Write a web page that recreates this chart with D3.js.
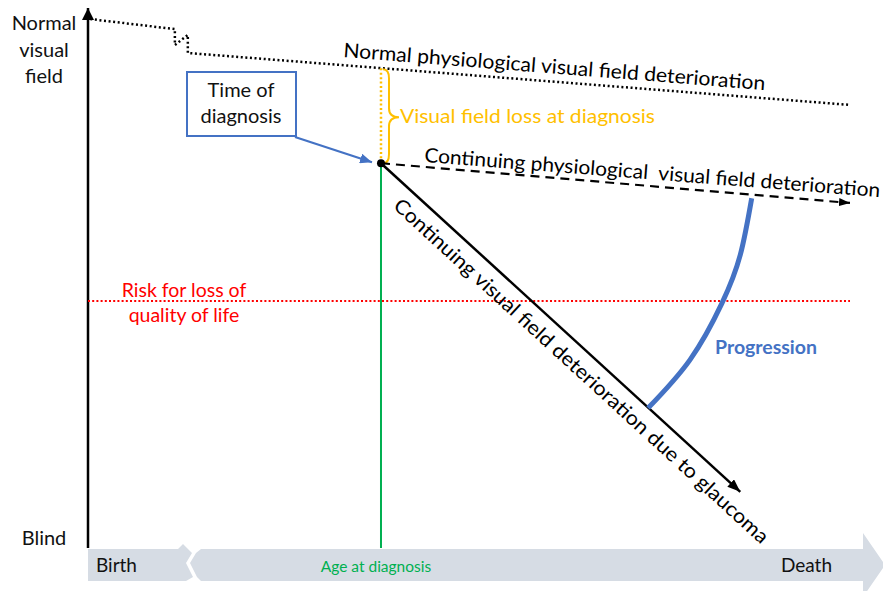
<!DOCTYPE html>
<html>
<head>
<meta charset="utf-8">
<script src="https://cdn.jsdelivr.net/npm/d3@7"></script>
<style>
  html, body { margin: 0; padding: 0; background: #fff; }
  svg { display: block; font-family: Lato, "Open Sans", "DejaVu Sans", sans-serif; }
  text { white-space: pre; }
</style>
</head>
<body>
<svg id="chart" width="883" height="591"></svg>
<script>
// ---------- data (x: 0 = birth, 100 = death; y: 0 = blind, 100 = normal) ----------
const yTickLabels = [{ v: 100, lines: ["Normal", "visual", "field"] }, { v: 0, lines: ["Blind"] }];
const xTickLabels = ["Birth", "Age at diagnosis", "Death"];
const normalField = [[0.3, 99.8], [11.4, 97.9], [11.4, 94.9], [13.1, 96.8], [13.1, 93.4], [100, 83.6]];
const diagnosisAge = 38.45;
const diagnosisField = 72.6;
const normalAtDiagnosis = 90.5;
const continuingPhysio = [[38.45, 72.6], [100, 65.1]];
const glaucomaDecline = [[38.45, 72.6], [85.6, 10.6]];
const riskLevel = 46.6;
const progressionArc = [[87.1, 66.0], [85.6, 55.3], [83.2, 46.2], [79.0, 35.5], [73.5, 26.4]];

// ---------- setup ----------
const svg = d3.select("#chart");
const x = d3.scaleLinear().domain([0, 100]).range([88, 850]);
const y = d3.scaleLinear().domain([0, 100]).range([548, 18]);
const line = d3.line().x(d => x(d[0])).y(d => y(d[1]));

const defs = svg.append("defs");
function marker(id, color, w, h) {
  defs.append("marker").attr("id", id)
    .attr("markerUnits", "userSpaceOnUse")
    .attr("viewBox", `0 0 ${w} ${h}`)
    .attr("refX", w).attr("refY", h / 2)
    .attr("markerWidth", w).attr("markerHeight", h)
    .attr("orient", "auto")
    .append("path").attr("d", `M0,0 L${w},${h / 2} L0,${h} Z`).attr("fill", color);
}
marker("arrBlack", "#000", 13, 10);
marker("arrSmall", "#000", 11, 8);
marker("arrBlue", "#4472C4", 12, 10);
marker("arrAxis", "#000", 12, 12);

// ---------- bottom banner (time arrow with break) ----------
const bannerLeft = [[88,549],[178,549],[183,544],[192,553],[186,563],[193,577],[186,581],[88,581]];
const bannerRight = [[196,553],[201,549],[863,549],[863,533],[885,565],[863,597],[863,581],[201,581],[197,577],[190,563]];
[bannerLeft, bannerRight].forEach(p => {
  svg.append("path").attr("d", "M" + p.map(q => q.join(",")).join("L") + "Z").attr("fill", "#D6DCE4");
});

// x labels
const xLab = svg.append("g").attr("font-size", 19).attr("fill", "#111");
xLab.append("text").attr("x", x(0) + 8).attr("y", 572).text(xTickLabels[0]);
xLab.append("text").attr("x", x(diagnosisAge) - 5).attr("y", 572).attr("text-anchor", "middle")
  .attr("font-size", 15.5).attr("fill", "#00B050").text(xTickLabels[1]);
xLab.append("text").attr("x", 832).attr("y", 572).attr("text-anchor", "end").text(xTickLabels[2]);

// ---------- y axis ----------
svg.append("line").attr("x1", x(0)).attr("x2", x(0)).attr("y1", y(0)).attr("y2", y(101.9))
  .attr("stroke", "#000").attr("stroke-width", 2.5).attr("marker-end", "url(#arrAxis)");

yTickLabels.forEach(t => {
  t.lines.forEach((s, i) => {
    svg.append("text").attr("x", 44).attr("text-anchor", "middle")
      .attr("y", t.v === 100 ? 30 + i * 26.5 : 545)
      .attr("font-size", 20).attr("fill", "#111").text(s);
  });
});

// ---------- risk line ----------
svg.append("line").attr("x1", x(0)).attr("x2", x(100)).attr("y1", y(riskLevel)).attr("y2", y(riskLevel))
  .attr("stroke", "#FF0000").attr("stroke-width", 2).attr("stroke-dasharray", "2,2.2");
svg.append("text").attr("x", 184).attr("y", 297).attr("text-anchor", "middle").attr("font-size", 19.5)
  .attr("fill", "#FF0000").text("Risk for loss of");
svg.append("text").attr("x", 184).attr("y", 322).attr("text-anchor", "middle").attr("font-size", 19.5)
  .attr("fill", "#FF0000").text("quality of life");

// ---------- normal physiological line ----------
svg.append("path").attr("d", line(normalField)).attr("fill", "none")
  .attr("stroke", "#000").attr("stroke-width", 2.5).attr("stroke-dasharray", "2,2.6");
const normAngle = Math.atan2(y(83.6) - y(93.4), x(100) - x(13.1)) * 180 / Math.PI;
svg.append("text").attr("transform", `translate(343,57) rotate(${normAngle})`)
  .attr("font-size", 20).attr("fill", "#000").attr("textLength", 423).attr("lengthAdjust", "spacingAndGlyphs")
  .text("Normal physiological visual field deterioration");

// ---------- green age-at-diagnosis line ----------
svg.append("line").attr("x1", x(diagnosisAge)).attr("x2", x(diagnosisAge))
  .attr("y1", y(diagnosisField)).attr("y2", y(0))
  .attr("stroke", "#00B050").attr("stroke-width", 2);

// ---------- yellow loss-at-diagnosis ----------
svg.append("line").attr("x1", x(diagnosisAge)).attr("x2", x(diagnosisAge))
  .attr("y1", y(normalAtDiagnosis)).attr("y2", y(diagnosisField))
  .attr("stroke", "#FFC000").attr("stroke-width", 2.5).attr("stroke-dasharray", "2,2.4");
{
  const bx = x(diagnosisAge) + 2, yt = y(normalAtDiagnosis) + 1, yb = y(diagnosisField), ym = (yt + yb) / 2 + 1;
  const d = `M${bx},${yt} Q${bx + 6},${yt} ${bx + 6},${yt + 9} L${bx + 6},${ym - 9} Q${bx + 6},${ym} ${bx + 16},${ym}` +
            ` Q${bx + 6},${ym} ${bx + 6},${ym + 9} L${bx + 6},${yb - 9} Q${bx + 6},${yb} ${bx},${yb}`;
  svg.append("path").attr("d", d).attr("fill", "none").attr("stroke", "#FFC000").attr("stroke-width", 2);
  svg.append("text").attr("x", bx + 17).attr("y", ym + 6).attr("font-size", 20).attr("fill", "#FFC000")
    .attr("textLength", 255).attr("lengthAdjust", "spacingAndGlyphs")
    .text("Visual field loss at diagnosis");
}

// ---------- continuing physiological (dashed) ----------
svg.append("path").attr("d", line(continuingPhysio)).attr("fill", "none")
  .attr("stroke", "#000").attr("stroke-width", 2.2).attr("stroke-dasharray", "9,6")
  .attr("marker-end", "url(#arrSmall)");
svg.append("text").attr("transform", `translate(424,162) rotate(4.4)`)
  .attr("font-size", 20).attr("fill", "#000").attr("textLength", 457).attr("lengthAdjust", "spacingAndGlyphs")
  .text("Continuing physiological  visual field deterioration");

// ---------- glaucoma decline ----------
svg.append("path").attr("d", line(glaucomaDecline)).attr("fill", "none")
  .attr("stroke", "#000").attr("stroke-width", 2.5).attr("marker-end", "url(#arrBlack)");
{
  const p0 = [x(glaucomaDecline[0][0]), y(glaucomaDecline[0][1])];
  const p1 = [x(glaucomaDecline[1][0]), y(glaucomaDecline[1][1])];
  const th = Math.atan2(p1[1] - p0[1], p1[0] - p0[0]);
  const ux = Math.cos(th), uy = Math.sin(th);
  const s = 38, off = 25;
  const tx = p0[0] + s * ux - off * uy, ty = p0[1] + s * uy + off * ux;
  svg.append("text").attr("transform", `translate(${tx},${ty}) rotate(${th * 180 / Math.PI})`)
    .attr("font-size", 20).attr("fill", "#000").attr("textLength", 500).attr("lengthAdjust", "spacingAndGlyphs")
    .text("Continuing visual field deterioration due to glaucoma");
}

// diagnosis dot
svg.append("circle").attr("cx", x(diagnosisAge)).attr("cy", y(diagnosisField)).attr("r", 4).attr("fill", "#000");

// ---------- progression arc ----------
svg.append("path").attr("d", d3.line().x(d => x(d[0])).y(d => y(d[1])).curve(d3.curveNatural)(progressionArc))
  .attr("fill", "none").attr("stroke", "#4472C4").attr("stroke-width", 5);
svg.append("text").attr("x", 766).attr("y", 354).attr("text-anchor", "middle")
  .attr("font-size", 19.5).attr("font-weight", "bold").attr("fill", "#4472C4").text("Progression");

// ---------- time of diagnosis box ----------
svg.append("rect").attr("x", 187).attr("y", 72).attr("width", 109).attr("height", 64)
  .attr("fill", "#fff").attr("stroke", "#4472C4").attr("stroke-width", 2);
svg.append("text").attr("x", 241).attr("y", 97).attr("text-anchor", "middle").attr("font-size", 20).attr("fill", "#111").text("Time of");
svg.append("text").attr("x", 241).attr("y", 123).attr("text-anchor", "middle").attr("font-size", 20).attr("fill", "#111").text("diagnosis");
svg.append("line").attr("x1", 295).attr("y1", 137).attr("x2", x(diagnosisAge) - 9).attr("y2", y(diagnosisField) - 1)
  .attr("stroke", "#4472C4").attr("stroke-width", 2.2).attr("marker-end", "url(#arrBlue)");
</script>
</body>
</html>
